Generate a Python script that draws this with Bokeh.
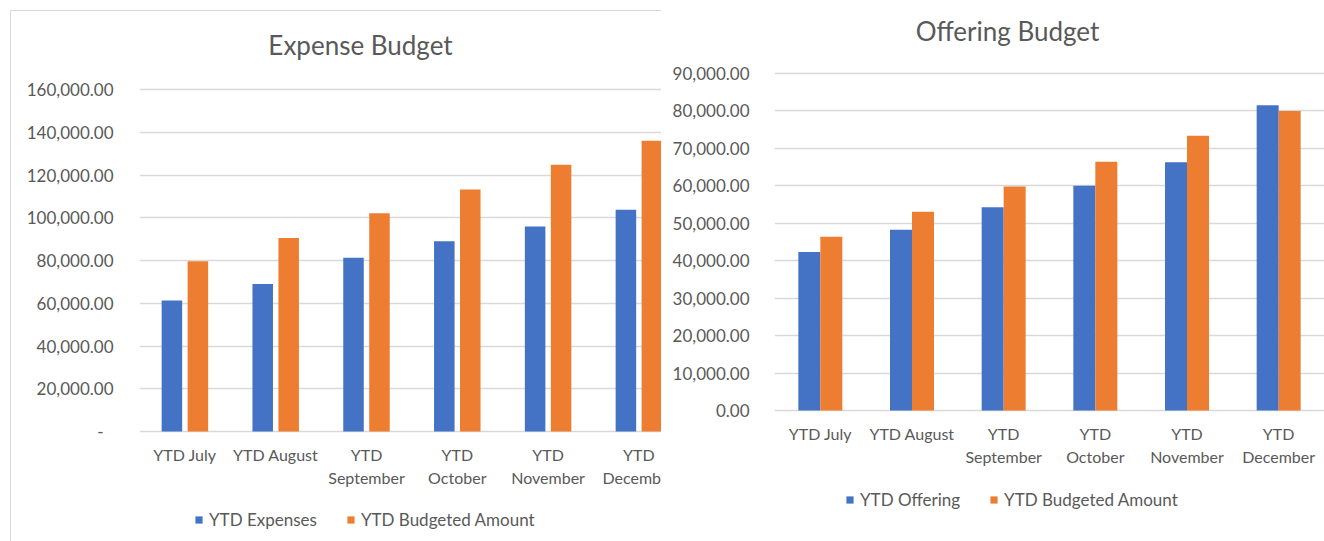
from bokeh.plotting import figure
from bokeh.models import (ColumnDataSource, Range1d, FixedTicker, NumeralTickFormatter,
                          Legend, LegendItem, Label)
from bokeh.core.properties import value
from bokeh.layouts import row
from bokeh.transform import dodge
from bokeh.embed import file_html
from bokeh.resources import INLINE

# ---------------- data ----------------
categories = ["YTD July", "YTD August", "YTD September", "YTD October", "YTD November", "YTD December"]
x_tick_labels = ["YTD July", "YTD August", "YTD\nSeptember", "YTD\nOctober", "YTD\nNovember", "YTD\nDecember"]

ytd_expenses = [61300, 69000, 81300, 89000, 95900, 103700]
ytd_expense_budget = [79700, 90500, 102100, 113200, 124800, 136000]

ytd_offering = [42300, 48300, 54300, 60000, 66300, 81500]
ytd_offering_budget = [46400, 53100, 59800, 66400, 73400, 80000]

expense_yticks = [0, 20000, 40000, 60000, 80000, 100000, 120000, 140000, 160000]
offering_yticks = [0, 10000, 20000, 30000, 40000, 50000, 60000, 70000, 80000, 90000]

BLUE = "#4472C4"
ORANGE = "#ED7D31"
TEXT = "#595959"
GRID = "#D9D9D9"
FONT = "Lato"


def make_chart(title, s1, l1, s2, l2, yticks, width, height, border_left,
               top_px, zero_px, x_end, half_offset, bar_w, title_x, title_y,
               ylab_standoff, legend_loc, zero_label=None, margin=(0, 0, 0, 0)):
    # vertical layout: the frame spans the whole figure height; the value axis
    # is mapped so that the top tick sits at top_px and zero at zero_px.
    span = yticks[-1] - yticks[0]
    per_px = span / (zero_px - top_px)
    y_end = yticks[-1] + top_px * per_px
    y_start = yticks[0] - (height - zero_px) * per_px

    pos = [i + 0.5 for i in range(len(categories))]
    src = ColumnDataSource(dict(x=pos, a=s1, b=s2, lab=x_tick_labels, zero=[0] * len(pos)))
    p = figure(width=width, height=height, output_backend="svg", toolbar_location=None,
               x_range=Range1d(0, x_end), y_range=Range1d(y_start, y_end),
               x_axis_location=None,
               min_border_left=border_left, min_border_right=0,
               min_border_top=0, min_border_bottom=0, margin=margin)
    p.outline_line_color = None
    p.background_fill_color = "white"
    p.border_fill_color = "white"
    p.xgrid.visible = False
    p.xgrid.grid_line_color = None

    r1 = p.vbar(x=dodge("x", -half_offset), top="a", width=bar_w, source=src,
                fill_color=BLUE, line_color=None)
    r2 = p.vbar(x=dodge("x", half_offset), top="b", width=bar_w, source=src,
                fill_color=ORANGE, line_color=None)

    # category labels under the zero line
    p.text(x="x", y="zero", text="lab", source=src, y_offset=13,
           text_align="center", text_baseline="top", text_font=value(FONT),
           text_font_size="16px", text_color=TEXT, text_line_height=1.25)

    # chart title
    p.add_layout(Label(x=title_x, y=title_y, x_units="screen", y_units="screen",
                       text=title, text_align="center", text_baseline="alphabetic",
                       text_font=FONT, text_font_size="26px", text_color=TEXT))

    # y axis
    ya = p.yaxis[0]
    ya.ticker = FixedTicker(ticks=yticks)
    ya.formatter = NumeralTickFormatter(format="0,0.00")
    if zero_label is not None:
        ya.major_label_overrides = {0: zero_label}
    ya.major_tick_line_color = None
    ya.minor_tick_line_color = None
    ya.axis_line_color = None
    ya.major_label_text_font = FONT
    ya.major_label_text_font_size = "17px"
    ya.major_label_text_color = TEXT
    ya.major_label_standoff = ylab_standoff

    p.ygrid.grid_line_color = GRID
    p.ygrid.grid_line_width = 1.5
    p.ygrid.ticker = FixedTicker(ticks=yticks)

    legend = Legend(items=[LegendItem(label=l1, renderers=[r1]),
                           LegendItem(label=l2, renderers=[r2])],
                    orientation="horizontal", location=legend_loc)
    legend.border_line_color = None
    legend.background_fill_alpha = 0
    legend.padding = 0
    legend.margin = 0
    legend.spacing = 29
    legend.glyph_width = 9
    legend.glyph_height = 9
    legend.label_standoff = 6
    legend.label_text_font = FONT
    legend.label_text_font_size = "17px"
    legend.label_text_color = TEXT
    p.add_layout(legend, "center")
    return p


left = make_chart("Expense Budget", ytd_expenses, "YTD Expenses",
                  ytd_expense_budget, "YTD Budgeted Amount", expense_yticks,
                  width=651, height=531, border_left=128, top_px=78, zero_px=420,
                  x_end=5.76, half_offset=0.143, bar_w=0.226,
                  title_x=221, title_y=498, ylab_standoff=20, legend_loc=(55, 12),
                  zero_label="-\u2007", margin=(10, 0, 0, 10))
left.styles = {"border-top": "1px solid #D9D9D9", "border-left": "1px solid #D9D9D9"}

right = make_chart("Offering Budget", ytd_offering, "YTD Offering",
                   ytd_offering_budget, "YTD Budgeted Amount", offering_yticks,
                   width=663, height=541, border_left=113, top_px=73, zero_px=410,
                   x_end=6.0, half_offset=0.12, bar_w=0.24,
                   title_x=233, title_y=511, ylab_standoff=19, legend_loc=(71, 31))

layout = row(left, right, spacing=0)
open("out.html", "w").write(file_html(layout, INLINE))
